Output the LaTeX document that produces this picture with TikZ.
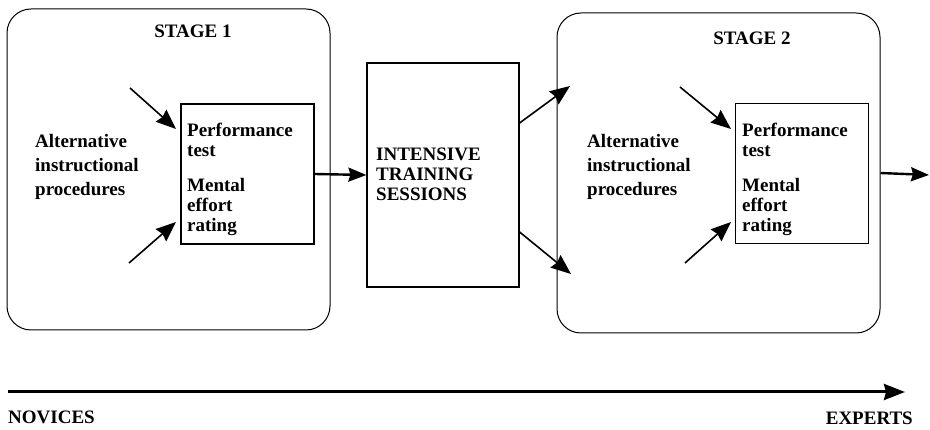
\documentclass[tikz,border=0pt]{standalone}
\usepackage{fontspec}
\setmainfont{Liberation Serif}
\usetikzlibrary{arrows.meta,positioning}
\begin{document}
\begin{tikzpicture}[
  x=1pt, y=-1pt,
  stage/.style={draw, rounded corners=24pt, minimum width=323pt, minimum height=321pt, line width=1pt},
  testbox/.style={draw, minimum width=133pt, minimum height=140pt, line width=1.2pt},
  trainbox/.style={draw, minimum width=152pt, minimum height=224pt, line width=1.2pt},
  lbl/.style={font=\fontsize{19}{24}\selectfont\bfseries, inner sep=0pt, align=left},
  feed/.style={-{Stealth[length=20pt,width=16pt,inset=2pt]}, line width=1.6pt},
  flow/.style={-{Stealth[length=18pt,width=14pt,inset=2pt]}, line width=2.4pt},
  axis/.style={-{Stealth[length=21pt,width=16pt,inset=2pt]}, line width=3pt}
]
\useasboundingbox (0,0) rectangle (930,430);
\node[stage] (stage1) at (168.5,169.5) {};
\node[stage, minimum height=320pt] (stage2) at (718.5,173) {};
\node[lbl, anchor=base] (title1) at (193,38) {STAGE 1};
\node[lbl, anchor=base] (title2) at (752,45) {STAGE 2};
\node[testbox] (test1) at (247.5,174) {};
\node[testbox] (test2) at (802,173.5) {};
\node[trainbox] (train) at (443,175) {};
\node[lbl, anchor=north west] (alt1) at (35,134) {Alternative\\instructional\\procedures};
\node[lbl, anchor=north west] (alt2) at (587,134) {Alternative\\instructional\\procedures};
\node[lbl, font=\fontsize{19}{20}\selectfont\bfseries, anchor=north west] (perf1) at (187,123) {Performance\\test\\[15pt]Mental\\effort\\rating};
\node[lbl, font=\fontsize{19}{20}\selectfont\bfseries, anchor=north west] (perf2) at (742,123) {Performance\\test\\[15pt]Mental\\effort\\rating};
\node[lbl, font=\fontsize{19}{20}\selectfont\bfseries, anchor=north west] (traintext) at (376,148) {INTENSIVE\\TRAINING\\SESSIONS};
\node[lbl, anchor=base west] (novices) at (8,424) {NOVICES};
\node[lbl, anchor=base east] (experts) at (913,425) {EXPERTS};
\coordinate (in1a) at (130,88);
\coordinate (in1b) at (129,263);
\coordinate (in2a) at (680,87);
\coordinate (in2b) at (685,263);
\coordinate (to1a) at (176,129);
\coordinate (to1b) at (176,222);
\coordinate (to2a) at (731,129);
\coordinate (to2b) at (731,222);
\coordinate (up) at (570,86);
\coordinate (down) at (571,274);
\coordinate (out) at (929,175);
\coordinate (axisstart) at (8,392);
\coordinate (axisend) at (905,392);
\draw[feed] (in1a) -- (to1a);
\draw[feed] (in1b) -- (to1b);
\draw[feed] (in2a) -- (to2a);
\draw[feed] (in2b) -- (to2b);
\draw[flow] (test1.east) -- (train.west);
\draw[feed] ([yshift=52pt]train.east) -- (up);
\draw[feed] ([yshift=-57pt]train.east) -- (down);
\draw[flow] (stage2.east) -- (out);
\draw[axis] (axisstart) -- (axisend);
\end{tikzpicture}
\end{document}
